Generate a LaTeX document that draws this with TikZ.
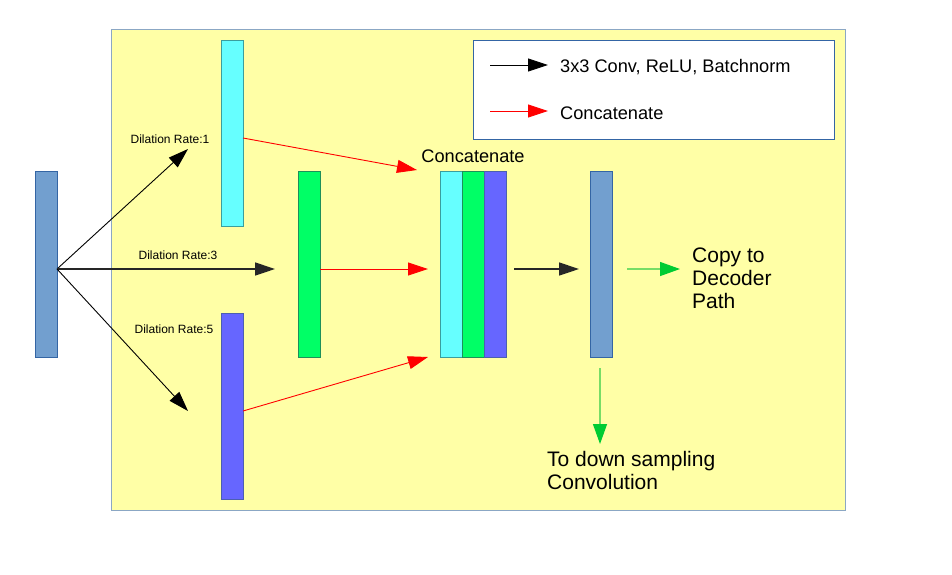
\documentclass[tikz,border=0pt]{standalone}
\usepackage{fontspec}
\setmainfont{Liberation Sans}
\usetikzlibrary{arrows.meta}
\definecolor{bgyellow}{HTML}{FFFFA6}
\definecolor{frameline}{HTML}{8BA7C4}
\definecolor{barblue}{HTML}{729FCF}
\definecolor{barblueline}{HTML}{3465A4}
\definecolor{barcyan}{HTML}{66FFFF}
\definecolor{barcyanline}{HTML}{3A9E9E}
\definecolor{bargreen}{HTML}{00FF66}
\definecolor{bargreenline}{HTML}{1E8F5A}
\definecolor{barviolet}{HTML}{6666FF}
\definecolor{barvioletline}{HTML}{4C5FB0}
\definecolor{arrred}{HTML}{FF0000}
\definecolor{arrgreenline}{HTML}{77DD66}
\definecolor{arrgreenhead}{HTML}{00CC33}
\tikzset{
  bar/.style={draw, line width=0.8pt, minimum width=22pt, minimum height=186pt, inner sep=0pt},
  blk/.style={draw=black, line width=0.9pt, -{Triangle[length=20pt,width=13pt]}},
  redarr/.style={draw=arrred, line width=0.9pt, -{Triangle[length=20pt,width=13pt]}},
  grnarr/.style={draw=arrgreenline, line width=1.3pt, -{Triangle[length=20pt,width=14pt,color=arrgreenhead,fill=arrgreenhead]}},
  small/.style={font=\fontsize{12}{14}\selectfont, inner sep=0pt},
  mid/.style={font=\fontsize{18.2}{21}\selectfont, inner sep=0pt},
  big/.style={font=\fontsize{21}{23}\selectfont, inner sep=0pt, align=left},
}
\begin{document}
\begin{tikzpicture}[x=1pt,y=-1pt]
\useasboundingbox (0,0) rectangle (952,574);
\node[draw=frameline, fill=bgyellow, line width=1pt, minimum width=734pt, minimum height=481pt, inner sep=0pt] (frame) at (478,269.5) {};
\node[draw=barblueline, fill=white, line width=1pt, minimum width=361pt, minimum height=99pt, inner sep=0pt] (legend) at (653.5,89.5) {};

\node[bar, draw=barblueline, fill=barblue] (in) at (46,264) {};
\node[bar, draw=barcyanline, fill=barcyan] (d1) at (232,133) {};
\node[bar, draw=bargreenline, fill=bargreen] (d3) at (309,264) {};
\node[bar, draw=barvioletline, fill=barviolet] (d5) at (232,406) {};
\node[bar, draw=barcyanline, fill=barcyan] (cc) at (451,264) {};
\node[bar, draw=bargreenline, fill=bargreen] (cg) at (473,264) {};
\node[bar, draw=barvioletline, fill=barviolet] (cb) at (495,264) {};
\node[bar, draw=barblueline, fill=barblue] (out) at (601,264) {};

\coordinate (o) at (57,269);
\coordinate (t1) at (188,149);
\coordinate (t3) at (275,269);
\coordinate (t5) at (188,411);
\draw[blk] (o) -- (t1);
\draw[blk, line width=1.4pt, draw=black!85] (o) -- (t3);
\draw[blk] (o) -- (t5);

\coordinate (r1s) at (243,138);
\coordinate (r1e) at (417,170);
\coordinate (r3s) at (320,269);
\coordinate (r3e) at (428,269);
\coordinate (r5s) at (243,411);
\coordinate (r5e) at (428,357);
\draw[redarr] (r1s) -- (r1e);
\draw[redarr] (r3s) -- (r3e);
\draw[redarr] (r5s) -- (r5e);

\coordinate (cs) at (514,269);
\coordinate (ce) at (579,269);
\draw[blk, line width=1.4pt, draw=black!85] (cs) -- (ce);

\coordinate (g1s) at (627,269);
\coordinate (g1e) at (680,269);
\coordinate (g2s) at (600,368);
\coordinate (g2e) at (600,444);
\draw[grnarr] (g1s) -- (g1e);
\draw[grnarr] (g2s) -- (g2e);

\coordinate (l1s) at (490,65);
\coordinate (l1e) at (548,65);
\coordinate (l2s) at (490,111);
\coordinate (l2e) at (548,111);
\draw[blk] (l1s) -- (l1e);
\draw[redarr] (l2s) -- (l2e);

\node[small] (lab1) at (170,139) {Dilation Rate:1};
\node[small] (lab3) at (178,255) {Dilation Rate:3};
\node[small] (lab5) at (174,329) {Dilation Rate:5};
\node[mid] (conclab) at (473,156) {Concatenate};
\node[mid, anchor=west] (leg1) at (560,67) {3x3 Conv, ReLU, Batchnorm};
\node[mid, anchor=west] (leg2) at (560,113) {Concatenate};
\node[big, anchor=west] (copy) at (692,278) {Copy to\\Decoder\\Path};
\node[big, anchor=west] (down) at (547,470.5) {To down sampling\\Convolution};
\end{tikzpicture}
\end{document}
